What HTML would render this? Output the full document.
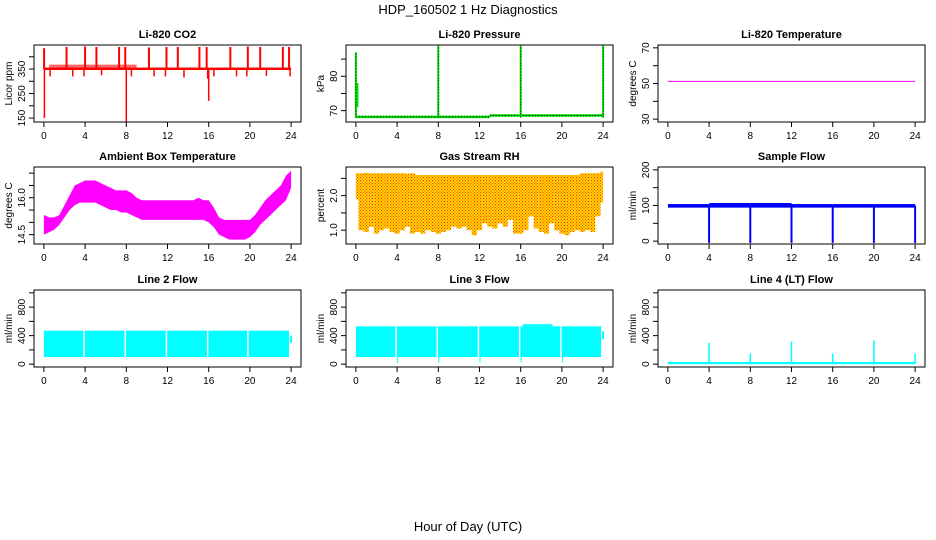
<!DOCTYPE html>
<html><head><meta charset="utf-8"><style>
body{margin:0;background:#fff}
svg{display:block;font-family:"Liberation Sans",sans-serif}
</style></head><body>
<svg id="c" width="936" height="540" viewBox="0 0 936 540">
<defs>
<pattern id="rhpat" width="3" height="3" patternUnits="userSpaceOnUse"><rect width="3" height="3" fill="#ffd700"/><rect width="1" height="1" fill="#ff2a00"/><rect x="1.5" y="1.5" width="1" height="1" fill="#ff2a00"/></pattern>
</defs>
<text x="468" y="14" text-anchor="middle" font-size="13">HDP_160502  1 Hz Diagnostics</text>
<text x="468" y="531" text-anchor="middle" font-size="13">Hour of Day (UTC)</text>
</svg>
<script>
const hours=[0,4,8,12,16,20,24];
// CO2
const co2Base=350;
const co2UpHours=[0.02,2.2,4.0,5.1,7.3,7.9,10.2,11.9,13.0,15.1,15.8,18.1,19.8,21.0,23.2,23.8];
const co2UpVals=[435,440,442,440,440,440,438,440,440,440,440,440,442,440,440,440];
const co2DownHours=[0.05,8.0,16.0,0.6,2.8,3.9,5.6,8.5,10.7,11.8,13.6,15.9,16.5,18.7,19.7,21.6,23.9];
const co2DownVals=[150,135,220,320,320,320,325,320,320,320,315,310,320,320,320,322,320];
// pressure
const presBaseHours=[0,13,24];
const presBaseVals=[68.2,68.6,68.6];
const presSpikeHours=[0,8,16,24];
const presSpikeVals=[87,89,89,89];
// Li temp
const liTempVals=[51.2,51.2];
// ambient (half-hour)
const ambLow=[14.5,14.6,14.7,14.9,15.2,15.5,15.7,15.8,15.8,15.8,15.8,15.7,15.6,15.5,15.5,15.4,15.4,15.3,15.2,15.1,15.1,15.1,15.1,15.1,15.1,15.1,15.1,15.1,15.1,15.1,15.1,15.1,15.0,14.8,14.5,14.4,14.3,14.3,14.3,14.3,14.4,14.6,14.9,15.1,15.3,15.5,15.7,15.9,16.4];
const ambHigh=[15.3,15.2,15.2,15.3,15.7,16.1,16.5,16.6,16.7,16.7,16.7,16.6,16.5,16.4,16.3,16.3,16.3,16.2,16.0,15.9,15.9,15.9,15.9,15.9,15.9,15.9,15.9,15.9,15.9,15.9,16.0,15.9,15.9,15.6,15.2,15.1,15.1,15.1,15.1,15.1,15.1,15.3,15.6,15.9,16.1,16.3,16.5,16.9,17.1];
// gas RH
const rhLow=[1.9,1.0,0.95,1.1,0.9,1.0,1.05,0.95,0.9,1.0,1.1,0.9,0.95,0.9,1.0,0.95,0.9,0.95,1.0,1.1,1.05,1.1,1.0,0.85,1.0,1.2,1.1,1.05,1.2,1.1,1.3,0.9,0.9,1.0,1.4,1.05,0.95,0.9,1.2,1.0,0.9,0.85,0.95,1.0,0.95,1.0,0.95,1.4,1.8];
const rhHigh=[2.65,2.65,2.66,2.65,2.65,2.65,2.65,2.65,2.65,2.65,2.64,2.65,2.6,2.6,2.6,2.6,2.6,2.6,2.6,2.6,2.6,2.6,2.6,2.6,2.6,2.6,2.6,2.6,2.6,2.6,2.6,2.6,2.6,2.6,2.6,2.6,2.6,2.6,2.6,2.6,2.6,2.6,2.6,2.6,2.65,2.65,2.65,2.65,2.7];
// sample flow
const sfBase=[100,103,103,100,100,100,100];
const sfDipHours=[4,8,12,16,20,24];
const sfDipVals=[-5,-5,-5,-5,-5,-5];
// line flows
const l2Low=100, l2High=470;
const l2GapHours=[3.9,7.9,11.9,15.9,19.8];
const l3Low=100, l3High=530;
const l3GapHours=[4.0,8.0,12.0,16.0,20.0];
const l3HighSegHours=[16.2,19.1]; const l3HighSegVal=560;
const l4Base=15;
const l4SpikeHours=[4,8,12,16,20,24];
const l4SpikeVals=[300,150,320,150,330,150];

const svg=document.getElementById('c');
const NS='http://www.w3.org/2000/svg';
function el(t,a,p){const e=document.createElementNS(NS,t);for(const k in a)e.setAttribute(k,a[k]);(p||svg).appendChild(e);return e;}

const cols=[34,346,658], rows=[45,167,290], W=267, H=77;
function panel(c,r,title,ylab,ymin,ymax,ticks,labels,name){
  const g=el('g',{});
  
  
  const L=cols[c],T=rows[r];
  const x=h=>L+W*(h+0.96)/25.92;
  const y=v=>T+H-H*(v-ymin)/(ymax-ymin);
  const t=el('text',{x:L+W/2,y:T-7,'text-anchor':'middle','font-size':11,'font-weight':'bold'},g);t.textContent=title;
  
  const plot=el('g',{},g);
  hours.forEach(h=>{el('line',{x1:x(h),x2:x(h),y1:T+H,y2:T+H+5,stroke:'#000'},g);
    const tl=el('text',{x:x(h),y:T+H+17,'text-anchor':'middle','font-size':10},g);tl.textContent=h;
    });
  ticks.forEach(v=>{el('line',{x1:L-5,x2:L,y1:y(v),y2:y(v),stroke:'#000'},g);});
  labels.forEach(v=>{const tl=el('text',{x:0,y:0,'text-anchor':'middle','font-size':10,transform:`translate(${L-9},${y(v)}) rotate(-90)`},g);tl.textContent=v;
    });
  const yl=el('text',{x:0,y:0,'text-anchor':'middle','font-size':10,transform:`translate(${L-22},${T+H/2}) rotate(-90)`},g);yl.textContent=ylab;
  
  el('rect',{x:L,y:T,width:W,height:H,fill:'none',stroke:'#000'},g);
  return {g:plot,x,y};
}
function vline(p,h,v1,v2,col,w){const l=el('line',{x1:p.x(h),x2:p.x(h),y1:p.y(v1),y2:p.y(v2),stroke:col,'stroke-width':w||1},p.g);return l;}
function band(p,low,high,fill){
  let pts=[];
  for(let i=0;i<high.length;i++)pts.push(p.x(i*0.5)+','+p.y(high[i]));
  for(let i=low.length-1;i>=0;i--)pts.push(p.x(i*0.5)+','+p.y(low[i]));
  return el('polygon',{points:pts.join(' '),fill:fill},p.g);
}

// CO2
let p=panel(0,0,'Li-820 CO2','Licor ppm',134,448,[150,200,250,300,350,400],[150,250,350],'co2');
el('rect',{x:p.x(0),y:p.y(356),width:p.x(24)-p.x(0),height:p.y(346)-p.y(356),fill:'red'},p.g);
el('rect',{x:p.x(0.5),y:p.y(368),width:p.x(9)-p.x(0.5),height:p.y(356)-p.y(368),fill:'red',opacity:0.6},p.g);
co2UpHours.forEach((h,i)=>{const l=vline(p,h,co2Base,co2UpVals[i],'red',2);});
co2DownHours.forEach((h,i)=>{const l=vline(p,h,co2Base,co2DownVals[i],'red',1.5);});

// Pressure
p=panel(1,0,'Li-820 Pressure','kPa',66.7,89.1,[70,75,80,85],[70,80],'pressure');
for(let i=0;i<presBaseHours.length-1;i++){
  el('line',{x1:p.x(presBaseHours[i]),x2:p.x(presBaseHours[i+1]),y1:p.y(presBaseVals[i]),y2:p.y(presBaseVals[i]),stroke:'#00dd00','stroke-width':2.5},p.g);
  el('line',{x1:p.x(presBaseHours[i]),x2:p.x(presBaseHours[i+1]),y1:p.y(presBaseVals[i]),y2:p.y(presBaseVals[i]),stroke:'#000','stroke-width':1,'stroke-dasharray':'1,2'},p.g);
}
presSpikeHours.forEach((h,i)=>{vline(p,h,68,presSpikeVals[i],'#00dd00',2);const l=vline(p,h,68,presSpikeVals[i],'#000',1);l.setAttribute('stroke-dasharray','1,2');});
vline(p,0.15,71,78,'#00dd00',2);

// Li temp
p=panel(2,0,'Li-820 Temperature','degrees C',28.4,71.6,[30,40,50,60,70],[30,50,70],'li-temp');
el('line',{x1:p.x(0),x2:p.x(24),y1:p.y(liTempVals[0]),y2:p.y(liTempVals[1]),stroke:'#ff00ff'},p.g);

// Ambient
p=panel(0,1,'Ambient Box Temperature','degrees C',14.12,17.25,[14.5,15,15.5,16,16.5,17],['14.5','16.0'],'ambient-temp');
band(p,ambLow,ambHigh,'#ff00ff');

// Gas RH
p=panel(1,1,'Gas Stream RH','percent',0.6,2.83,[1.0,1.5,2.0,2.5],['1.0','2.0'],'gas-rh');
for(let i=0;i<rhLow.length;i++){const h=i*0.5;const x0=p.x(Math.max(0,h-0.25)),x1=p.x(Math.min(24,h+0.25));
  el('rect',{x:x0,y:p.y(rhHigh[i]),width:x1-x0,height:p.y(rhLow[i])-p.y(rhHigh[i]),fill:'url(#rhpat)'},p.g);}

// Sample flow
p=panel(2,1,'Sample Flow','ml/min',-8,208,[0,50,100,150,200],[0,100,200],'sample-flow');
for(let i=0;i<sfBase.length-1;i++){el('rect',{x:p.x(hours[i]),y:p.y(sfBase[i]+4),width:p.x(hours[i+1])-p.x(hours[i]),height:p.y(94)-p.y(sfBase[i]+4),fill:'#0000ff'},p.g);}
sfDipHours.forEach((h,i)=>{vline(p,h,100,sfDipVals[i],'#0000ff',2);});

// Line 2
p=panel(0,2,'Line 2 Flow','ml/min',-40,1040,[0,200,400,600,800,1000],[0,400,800],'line2-flow');
el('rect',{x:p.x(0),y:p.y(l2High),width:p.x(23.8)-p.x(0),height:p.y(l2Low)-p.y(l2High),fill:'#00ffff'},p.g);
l2GapHours.forEach(h=>{vline(p,h,l2Low,l2High,'#fff',1.5);});
vline(p,24,300,400,'#00ffff',2);

// Line 3
p=panel(1,2,'Line 3 Flow','ml/min',-40,1040,[0,200,400,600,800,1000],[0,400,800],'line3-flow');
el('rect',{x:p.x(0),y:p.y(l3High),width:p.x(23.8)-p.x(0),height:p.y(l3Low)-p.y(l3High),fill:'#00ffff'},p.g);
el('rect',{x:p.x(l3HighSegHours[0]),y:p.y(l3HighSegVal),width:p.x(l3HighSegHours[1])-p.x(l3HighSegHours[0]),height:p.y(l3High)-p.y(l3HighSegVal),fill:'#00ffff'},p.g);
l3GapHours.forEach(h=>{vline(p,h-0.1,l3Low,l3High,'#fff',1.5);vline(p,h+0.05,20,430,'#00ffff',1);});
vline(p,24,350,460,'#00ffff',2);

// Line 4
p=panel(2,2,'Line 4 (LT) Flow','ml/min',-40,1040,[0,200,400,600,800,1000],[0,400,800],'line4-flow');
el('rect',{x:p.x(0),y:p.y(l4Base+15),width:p.x(24)-p.x(0),height:p.y(0)-p.y(l4Base+15),fill:'#00ffff'},p.g);
l4SpikeHours.forEach((h,i)=>{vline(p,h,0,l4SpikeVals[i],'#00ffff',1.5);});
</script>
</body></html>
